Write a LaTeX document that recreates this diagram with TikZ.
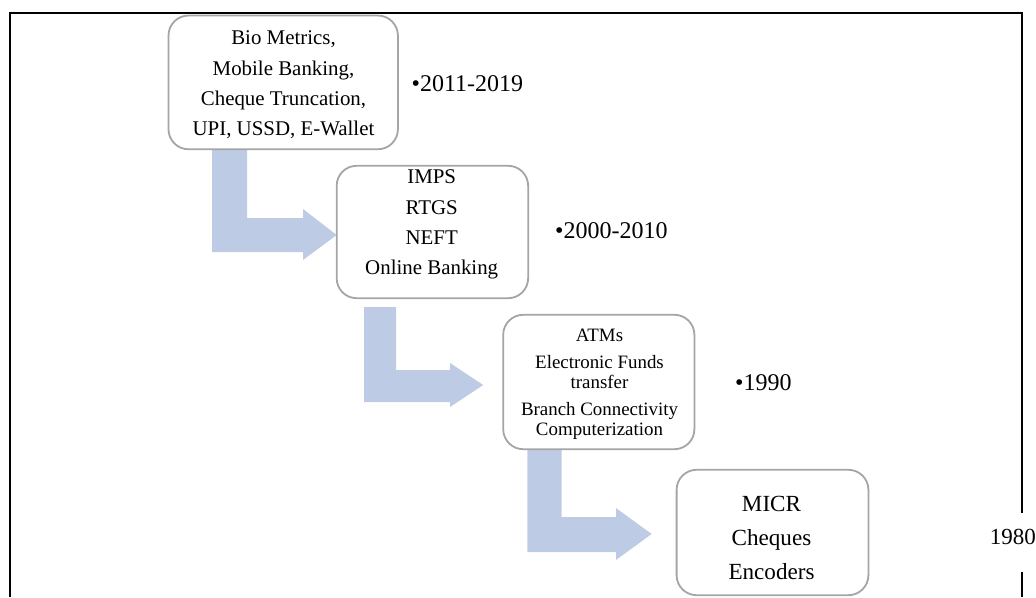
\documentclass[tikz,border=0pt]{standalone}
\usepackage{fontspec}
\setmainfont{Liberation Serif}
\usetikzlibrary{calc}
\definecolor{arrowblue}{RGB}{189,204,228}
\definecolor{boxgray}{RGB}{165,165,165}
\tikzset{
  box/.style={draw=boxgray, line width=1.8pt, rounded corners=20pt, fill=white, inner sep=0pt},
  boxtext/.style={align=center, inner sep=0pt, text=black},
  arr/.style={fill=arrowblue},
  frameline/.style={draw=black, line width=2pt},
  yearlabel/.style={inner sep=0pt, anchor=base west, font=\fontsize{24}{28}\selectfont}
}
\begin{document}
\begin{tikzpicture}[x=1pt,y=-1pt]
\useasboundingbox (0,0) rectangle (1036,597);
% boxes (shapes only; filled later on top of arrows)
\path (283.2,82.4) node[minimum width=229pt, minimum height=133.3pt, inner sep=0pt] (b1) {};
\path (432.4,232) node[minimum width=191.1pt, minimum height=132pt, inner sep=0pt] (b2) {};
\path (598.8,382) node[minimum width=190.8pt, minimum height=134pt, inner sep=0pt] (b3) {};
\path (772.5,532.5) node[minimum width=191.4pt, minimum height=125pt, inner sep=0pt] (b4) {};
% L-shaped block arrows
\fill[arr] let \p1=(b1.south), \p2=(b2.west) in
  (212,\y1) -- (247,\y1) -- (247,218) -- (303,218) -- (303,209) -- (\x2,235)
  -- (303,260) -- (303,252) -- (212,252) -- cycle;
\fill[arr] let \p1=(b2.south), \p2=(b3.west) in
  (364,\y1-9pt) -- (396,\y1-9pt) -- (396,370) -- (450,370) -- (450,363) -- (\x2-20pt,385)
  -- (450,407) -- (450,402) -- (364,402) -- cycle;
\fill[arr] let \p1=(b3.south), \p2=(b4.west) in
  (527.4,\y1) -- (561.5,\y1) -- (561.5,517) -- (616,517) -- (616,508) -- (\x2-25pt,534)
  -- (616,560) -- (616,552) -- (527.4,552) -- cycle;
% box outlines
\draw[box] (b1.south west) rectangle (b1.north east);
\draw[box] (b2.south west) rectangle (b2.north east);
\draw[box] (b3.south west) rectangle (b3.north east);
\draw[box] (b4.south west) rectangle (b4.north east);
% box texts
\node[boxtext, font=\fontsize{20.9}{30.3}\selectfont] (t1) at (283.5,85)
  {Bio Metrics,\\ Mobile Banking,\\ Cheque Truncation,\\ UPI, USSD, E-Wallet};
\node[boxtext, font=\fontsize{20.9}{30.3}\selectfont] (t2) at (431.7,224.5)
  {IMPS\\ RTGS\\ NEFT\\ Online Banking};
\node[boxtext, font=\fontsize{18.9}{20}\selectfont] (t3) at (599.5,384)
  {ATMs\\[7.5pt] Electronic Funds\\ transfer\\[6.6pt] Branch Connectivity\\ Computerization};
\node[boxtext, font=\fontsize{23.1}{34.2}\selectfont] (t4) at (771.5,538)
  {MICR\\ Cheques\\ Encoders};
% year labels
\node[yearlabel] (y1) at (411.5,91) {\textbullet2011-2019};
\node[yearlabel] (y2) at (555,238) {\textbullet2000-2010};
\node[yearlabel] (y3) at (735,390) {\textbullet1990};
\node[yearlabel, font=\fontsize{23}{28}\selectfont] (y4) at (989.6,544.5) {1980};
% frame
\coordinate (fr1) at (1021.5,513);
\coordinate (fr2) at (1021.5,572);
\draw[frameline] (10,597) -- (10,13) -- (1021.5,13) -- (fr1);
\draw[frameline] (fr2) -- (1021.5,597);
\end{tikzpicture}
\end{document}
